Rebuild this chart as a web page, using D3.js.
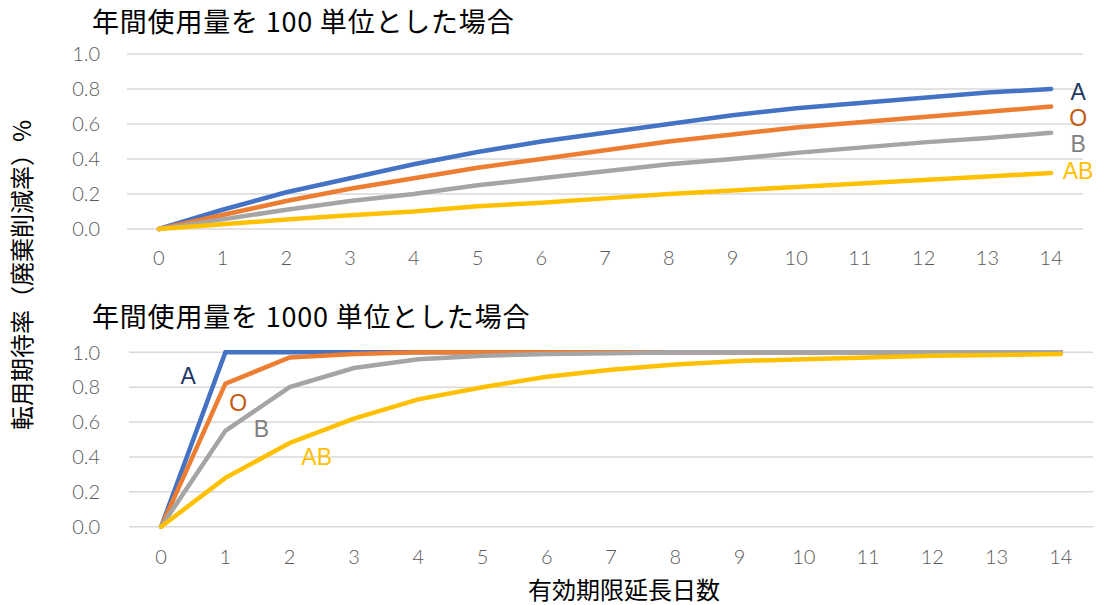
<!DOCTYPE html>
<html lang="ja">
<head>
<meta charset="utf-8">
<script src="https://cdn.jsdelivr.net/npm/d3@7"></script>
<style>
  html, body { margin: 0; padding: 0; background: #fff; }
  svg { display: block; font-family: "Noto Sans CJK JP", "Noto Sans", sans-serif; }
  .tick-label { fill: #595959; font-size: 20px; font-family: Lato, "Noto Sans", sans-serif; font-weight: 300; }
  .title { fill: #000; font-size: 27px; letter-spacing: 0.8px; }
  .axis-title { fill: #000; font-size: 24px; }
  .series-label { font-size: 23px; font-family: "Liberation Sans", Arial, sans-serif; }
</style>
</head>
<body>
<svg id="chart" width="1100" height="605"></svg>
<script>
// Days of expiry extension (x categories)
const days = [0, 1, 2, 3, 4, 5, 6, 7, 8, 9, 10, 11, 12, 13, 14];
const yTicks = [0, 0.2, 0.4, 0.6, 0.8, 1.0];
const groups = ["A", "O", "B", "AB"];

// Annual usage 100 units
const a100  = [0, 0.11, 0.21, 0.29, 0.37, 0.44, 0.50, 0.55, 0.60, 0.65, 0.69, 0.72, 0.75, 0.78, 0.80];
const o100  = [0, 0.08, 0.16, 0.23, 0.29, 0.35, 0.40, 0.45, 0.50, 0.54, 0.58, 0.61, 0.64, 0.67, 0.70];
const b100  = [0, 0.055, 0.11, 0.16, 0.20, 0.25, 0.29, 0.33, 0.37, 0.40, 0.435, 0.465, 0.495, 0.52, 0.55];
const ab100 = [0, 0.027, 0.054, 0.079, 0.10, 0.13, 0.15, 0.175, 0.20, 0.22, 0.24, 0.26, 0.28, 0.30, 0.32];

// Annual usage 1000 units
const a1000  = [0, 1.0, 1.0, 1.0, 1.0, 1.0, 1.0, 1.0, 1.0, 1.0, 1.0, 1.0, 1.0, 1.0, 1.0];
const o1000  = [0, 0.82, 0.97, 0.99, 1.0, 1.0, 1.0, 1.0, 1.0, 1.0, 1.0, 1.0, 1.0, 1.0, 1.0];
const b1000  = [0, 0.55, 0.80, 0.91, 0.96, 0.98, 0.99, 0.995, 1.0, 1.0, 1.0, 1.0, 1.0, 1.0, 1.0];
const ab1000 = [0, 0.28, 0.48, 0.62, 0.73, 0.80, 0.86, 0.90, 0.93, 0.95, 0.96, 0.97, 0.98, 0.985, 0.99];

const lineColors  = { A: "#4472C4", O: "#ED7D31", B: "#A5A5A5", AB: "#FFC000" };
const labelColors = { A: "#1F3864", O: "#C55A11", B: "#7F7F7F", AB: "#FFC000" };

const svg = d3.select("#chart");

function drawPanel(cfg) {
  const g = svg.append("g");
  const x = d3.scaleLinear().domain([-0.5, 14.5]).range([cfg.left, cfg.right]);
  const y = d3.scaleLinear().domain([0, 1]).range([cfg.bottom, cfg.top]);

  // title
  g.append("text").attr("class", "title")
    .attr("x", 92).attr("y", cfg.titleY).text(cfg.title);

  // horizontal gridlines
  g.selectAll("line.grid").data(yTicks).join("line")
    .attr("class", "grid")
    .attr("x1", cfg.left).attr("x2", cfg.right)
    .attr("y1", d => y(d)).attr("y2", d => y(d))
    .attr("stroke", "#D9D9D9").attr("stroke-width", 1.5);

  // y tick labels
  g.selectAll("text.ylab").data(yTicks).join("text")
    .attr("class", "tick-label ylab")
    .attr("x", 100).attr("y", d => y(d)).attr("dy", "0.36em")
    .attr("text-anchor", "end")
    .text(d => d3.format(".1f")(d));

  // x tick labels
  g.selectAll("text.xlab").data(days).join("text")
    .attr("class", "tick-label xlab")
    .attr("x", d => x(d)).attr("y", cfg.xLabelY)
    .attr("text-anchor", "middle")
    .text(d => d);

  const line = d3.line().x((d, i) => x(days[i])).y(d => y(d));

  groups.forEach((k, i) => {
    g.append("path")
      .datum(cfg.series[i])
      .attr("d", line)
      .attr("fill", "none")
      .attr("stroke", lineColors[k])
      .attr("stroke-width", 4.5)
      .attr("stroke-linecap", "round")
      .attr("stroke-linejoin", "miter");
  });

  groups.forEach((k, i) => {
    const p = cfg.labelAt(k, i, x, y);
    g.append("text")
      .attr("class", "series-label")
      .attr("x", p[0]).attr("y", p[1]).attr("dy", "0.36em")
      .attr("text-anchor", "middle")
      .attr("fill", labelColors[k])
      .text(k);
  });
}

// top panel: labels sit just right of the last point
const endLabelShift = { A: 3, O: 11, B: 11, AB: -2 };
drawPanel({
  title: "年間使用量を 100 単位とした場合",
  titleY: 32,
  left: 127, right: 1083, top: 54, bottom: 229,
  xLabelY: 265,
  series: [a100, o100, b100, ab100],
  labelAt: (k, i, x, y) => {
    const s = [a100, o100, b100, ab100][i];
    return [x(14) + 27, y(s[14]) + endLabelShift[k]];
  }
});

// bottom panel: labels placed inside the plot near the steep rise
const innerLabelAt = { A: [0.42, 0.865], O: [1.2, 0.71], B: [1.56, 0.56], AB: [2.42, 0.40] };
drawPanel({
  title: "年間使用量を 1000 単位とした場合",
  titleY: 327,
  left: 129, right: 1093, top: 352.3, bottom: 526.7,
  xLabelY: 564,
  series: [a1000, o1000, b1000, ab1000],
  labelAt: (k, i, x, y) => [x(innerLabelAt[k][0]), y(innerLabelAt[k][1])]
});

// shared axis titles
svg.append("text").attr("class", "axis-title")
  .attr("transform", "translate(31,275) rotate(-90)")
  .attr("text-anchor", "middle")
  .text("転用期待率（廃棄削減率）%");

svg.append("text").attr("class", "axis-title")
  .attr("x", 624).attr("y", 599)
  .attr("text-anchor", "middle")
  .text("有効期限延長日数");
</script>
</body>
</html>
